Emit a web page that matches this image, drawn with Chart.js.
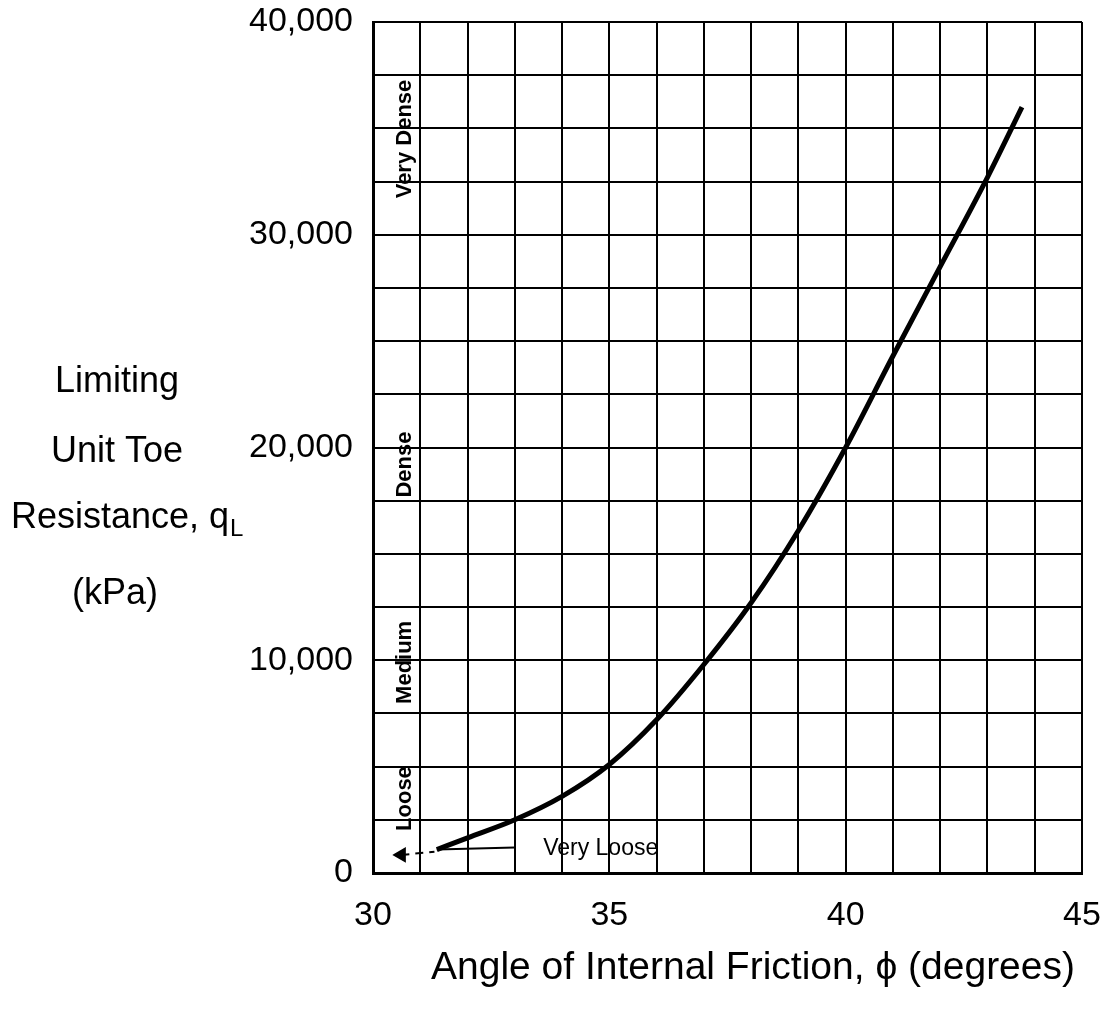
<!DOCTYPE html>
<html>
<head>
<meta charset="utf-8">
<title>Limiting Unit Toe Resistance</title>
<script src="https://cdn.jsdelivr.net/npm/chart.js@4.4.1/dist/chart.umd.min.js"></script>
<style>
    body { margin: 0; background: #fff; }
    #wrap { width: 1107px; height: 1009px; position: relative; }
</style>
</head>
<body>
<div id="wrap"><canvas id="chart"></canvas></div>
<script>
// Curve: angle of internal friction (deg) vs limiting toe resistance (kPa)
const frictionAngle = [31.35, 32, 33, 34, 35, 36, 37, 38, 39, 40, 41, 42, 43, 43.73];
const toeResistance = [1100, 1650, 2500, 3600, 5100, 7200, 9800, 12700, 16100, 20000, 24300, 28500, 32700, 36000];

// tick labels shown on the axes
const xTickLabels = [30, 35, 40, 45];
const yTickLabels = [0, 10000, 20000, 30000, 40000];

// density zones written up the left edge (centre value, kPa)
const zoneNames = ['Very Dense', 'Dense', 'Medium', 'Loose'];
const zoneCentres = [34500, 19200, 9900, 3500];

// "Very Loose" pointer: leader from the curve start, and the arrow at the left
const leaderX = [31.35, 33];
const leaderY = [1100, 1200];
const arrowX = [30.6, 31.3];
const arrowY = [850, 1000];
const veryLooseAt = [33.6, 1150];

const yTitleLines = ['Limiting', 'Unit Toe', 'Resistance, q', '(kPa)'];
const xTitle = 'Angle of Internal Friction, \u03d5 (degrees)';

const FONT = '"Liberation Sans", Arial, Helvetica, sans-serif';

function toPoints(xs, ys) {
    return xs.map(function(x, i) { return { x: x, y: ys[i] }; });
}

// Draws the horizontal y title, the zone names and the other notes
const notesPlugin = {
    id: 'notes',
    afterDatasetsDraw: function(chart) {
        const ctx = chart.ctx;
        const xs = chart.scales.x;
        const ys = chart.scales.y;
        ctx.save();
        ctx.fillStyle = '#000';

        // zone names, rotated
        ctx.font = 'bold 22px ' + FONT;
        ctx.textAlign = 'center';
        ctx.textBaseline = 'middle';
        const zx = xs.getPixelForValue(30.68);
        zoneNames.forEach(function(name, i) {
            ctx.save();
            ctx.translate(zx, ys.getPixelForValue(zoneCentres[i]));
            ctx.rotate(-Math.PI / 2);
            ctx.fillText(name, 0, 0);
            ctx.restore();
        });

        // Very Loose note
        ctx.font = '23px ' + FONT;
        ctx.textAlign = 'left';
        ctx.fillText('Very Loose', xs.getPixelForValue(veryLooseAt[0]), ys.getPixelForValue(veryLooseAt[1]));

        // y title, horizontal lines of text
        ctx.font = '36px ' + FONT;
        ctx.textBaseline = 'alphabetic';
        const baselines = [392, 462, 528, 604];
        ctx.textAlign = 'center';
        ctx.fillText(yTitleLines[0], 117, baselines[0]);
        ctx.fillText(yTitleLines[1], 117, baselines[1]);
        ctx.fillText(yTitleLines[3], 115, baselines[3]);
        ctx.textAlign = 'left';
        ctx.fillText(yTitleLines[2], 11, baselines[2]);
        const w = ctx.measureText(yTitleLines[2]).width;
        ctx.font = '24px ' + FONT;
        ctx.fillText('L', 11 + w + 1, baselines[2] + 8);

        // x title
        ctx.font = '39px ' + FONT;
        ctx.textAlign = 'center';
        ctx.fillText(xTitle, 753, 979);
        ctx.restore();
    }
};

new Chart(document.getElementById('chart'), {
    type: 'line',
    data: {
        datasets: [
            {
                label: 'Limiting unit toe resistance',
                data: toPoints(frictionAngle, toeResistance),
                borderColor: '#000',
                borderWidth: 5,
                pointRadius: 0,
                fill: false,
                cubicInterpolationMode: 'monotone'
            },
            {
                label: 'leader',
                data: toPoints(leaderX, leaderY),
                borderColor: '#000',
                borderWidth: 2,
                pointRadius: 0
            },
            {
                label: 'arrow',
                data: toPoints(arrowX, arrowY),
                borderColor: '#000',
                borderWidth: 2,
                borderDash: [8, 6],
                pointStyle: 'triangle',
                rotation: 270,
                pointRadius: [7, 0],
                pointBackgroundColor: '#000',
                pointBorderColor: '#000'
            }
        ]
    },
    options: {
        responsive: true,
        maintainAspectRatio: false,
        animation: false,
        layout: { padding: { top: 22, right: 25, left: 0, bottom: 0 } },
        plugins: {
            legend: { display: false },
            tooltip: { enabled: false }
        },
        scales: {
            x: {
                type: 'linear',
                min: 30,
                max: 45,
                afterFit: function(s) {
                    s.height = 136;
                    s.paddingLeft = 0;
                    s.paddingRight = 0;
                },
                ticks: {
                    stepSize: 1,
                    autoSkip: false,
                    maxRotation: 0,
                    padding: 22,
                    color: '#000',
                    font: { family: FONT, size: 34 },
                    callback: function(v) { return xTickLabels.includes(v) ? String(v) : ''; }
                },
                grid: { color: '#000', lineWidth: 2, drawTicks: false },
                border: { color: '#000', width: 3 }
            },
            y: {
                min: 0,
                max: 40000,
                afterFit: function(s) {
                    s.width = 373;
                    s.paddingTop = 0;
                    s.paddingBottom = 0;
                },
                ticks: {
                    stepSize: 2500,
                    autoSkip: false,
                    padding: 20,
                    color: '#000',
                    font: { family: FONT, size: 34 },
                    callback: function(v) { return yTickLabels.includes(v) ? v.toLocaleString('en-US') : ''; }
                },
                grid: { color: '#000', lineWidth: 2, drawTicks: false },
                border: { color: '#000', width: 3 }
            }
        }
    },
    plugins: [notesPlugin]
});
</script>
</body>
</html>
